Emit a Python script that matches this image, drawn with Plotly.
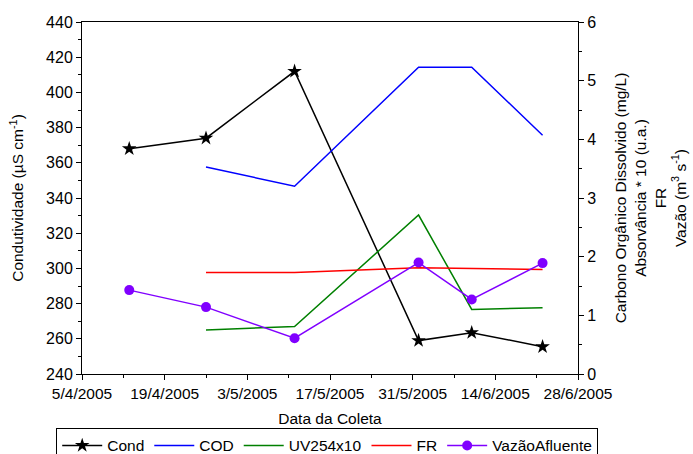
import plotly.graph_objects as go

dates = ["2005-04-13", "2005-04-26", "2005-05-11", "2005-06-01", "2005-06-10", "2005-06-22"]
cond = [368, 374, 412, 259, 263.5, 255.5]
cod_dates = dates[1:]
cod = [3.53, 3.20, 5.23, 5.23, 4.07]
uv254x10 = [0.75, 0.81, 2.71, 1.10, 1.13]
fr = [1.73, 1.73, 1.81, 1.80, 1.78]
vazao = [1.43, 1.14, 0.61, 1.90, 1.27, 1.89]

tick_dates = ["2005-04-05", "2005-04-19", "2005-05-03", "2005-05-17", "2005-05-31", "2005-06-14", "2005-06-28"]
tick_labels = ["5/4/2005", "19/4/2005", "3/5/2005", "17/5/2005", "31/5/2005", "14/6/2005", "28/6/2005"]

FONT = "Liberation Sans, Arial, sans-serif"
FS = 15.5

fig = go.Figure()
fig.add_trace(go.Scatter(x=dates, y=cond, name="Cond", mode="lines+markers",
                         line=dict(color="black", width=1.5),
                         marker=dict(symbol="star", size=11, color="black"), yaxis="y"))
fig.add_trace(go.Scatter(x=cod_dates, y=cod, name="COD", mode="lines",
                         line=dict(color="#0000FF", width=1.5), yaxis="y2"))
fig.add_trace(go.Scatter(x=cod_dates, y=uv254x10, name="UV254x10", mode="lines",
                         line=dict(color="#008000", width=1.5), yaxis="y2"))
fig.add_trace(go.Scatter(x=cod_dates, y=fr, name="FR", mode="lines",
                         line=dict(color="#FF0000", width=1.5), yaxis="y2"))
fig.add_trace(go.Scatter(x=dates, y=vazao, name="VazãoAfluente", mode="lines+markers",
                         line=dict(color="#8000FF", width=1.5),
                         marker=dict(symbol="circle", size=10, color="#8000FF"), yaxis="y2"))

fig.update_layout(
    width=693, height=454,
    margin=dict(l=82, r=115, t=22, b=80, autoexpand=False),
    paper_bgcolor="white", plot_bgcolor="white",
    font=dict(family=FONT, size=FS, color="black"),
    showlegend=True,
    legend=dict(orientation="h", x=-0.052, xanchor="left", y=-0.153, yanchor="top",
                bordercolor="black", borderwidth=1, font=dict(size=FS),
                tracegroupgap=0, itemwidth=40),
    xaxis=dict(type="date", range=["2005-04-05", "2005-06-28"], automargin=False,
               tickvals=tick_dates, ticktext=tick_labels,
               showline=True, linecolor="black", linewidth=1, mirror=True,
               ticks="outside", ticklen=5, tickcolor="black",
               minor=dict(ticks="outside", ticklen=3, tickcolor="black",
                          dtick=7 * 86400000, tick0="2005-04-05"),
               showgrid=False, zeroline=False,
               title=dict(text="Data da Coleta", standoff=12, font=dict(size=FS)),
               tickfont=dict(size=FS)),
    yaxis=dict(range=[240, 440], dtick=20, showline=True, linecolor="black", linewidth=1,
               automargin=False,
               ticks="outside", ticklen=5, tickcolor="black",
               minor=dict(ticks="outside", ticklen=3, tickcolor="black", dtick=10),
               showgrid=False, zeroline=False,
               title=dict(text="Condutividade (µS cm<sup>-1</sup>)", standoff=18, font=dict(size=FS)),
               tickfont=dict(size=16)),
    yaxis2=dict(range=[0, 6], dtick=1, overlaying="y", side="right", automargin=False,
                showline=True, linecolor="black", linewidth=1,
                ticks="outside", ticklen=5, tickcolor="black",
                minor=dict(ticks="outside", ticklen=3, tickcolor="black", dtick=0.5),
                showgrid=False, zeroline=False,
                title=dict(text="Carbono Orgânico Dissolvido (mg/L)<br>Absorvância * 10 (u.a.)<br>FR<br>Vazão (m<sup>3</sup> s<sup>-1</sup>)",
                           standoff=19, font=dict(size=FS)),
                tickfont=dict(size=16)),
)

fig.write_html("out.html", config={"displayModeBar": False},
               post_script="document.body.style.margin='0';document.body.style.overflow='hidden';")
